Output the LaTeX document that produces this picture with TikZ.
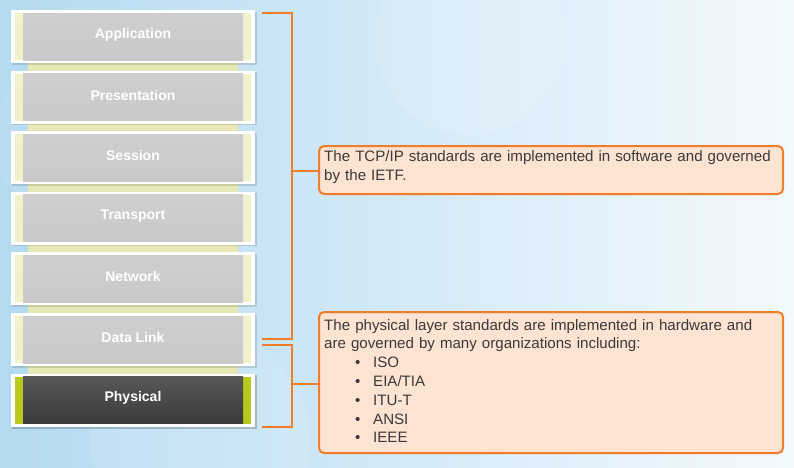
\documentclass[tikz,border=0pt]{standalone}
\usepackage{fontspec}
\setmainfont{Liberation Sans}
\usetikzlibrary{shadows}
\definecolor{bgL}{HTML}{B3DAF1}
\definecolor{bgR}{HTML}{F3F9FD}
\definecolor{orng}{HTML}{F07D2A}
\definecolor{peach}{HTML}{FDE3D1}
\definecolor{txt}{HTML}{3A3A3A}
\definecolor{lgray}{HTML}{C9C9C9}
\definecolor{paley}{HTML}{F1F2CC}
\definecolor{barY}{HTML}{E6E9B6}
\definecolor{physY}{HTML}{B8C81E}
\definecolor{dgray}{HTML}{3B393A}
\tikzset{
  br/.style={draw=orng, line width=2pt},
  tbox/.style={draw=orng, line width=2pt, fill=peach, rounded corners=5pt},
  lbl/.style={text=white, font=\bfseries\fontsize{14}{16}\selectfont},
  btxt/.style={text=txt, font=\fontsize{15.1}{18.8}\selectfont, align=left, text width=455pt, inner sep=0pt, anchor=north west},
}
\begin{document}
\begin{tikzpicture}[x=1pt,y=-1pt]
\useasboundingbox (0,0) rectangle (794,467);
\shade[left color=bgL, right color=bgR] (0,0) rectangle (794,467);
\fill[white, opacity=0.12] (470,40) circle (95);
\fill[white, opacity=0.10] (200,440) circle (110);
\fill[white, opacity=0.08] (60,140) circle (70);
% connector bars between layers
\fill[barY] (28,60) rectangle (238,376);
\foreach \n/\t [count=\i from 0] in {app/Application,pre/Presentation,ses/Session,tra/Transport,net/Network,dl/Data Link} {
  \pgfmathsetmacro\yy{10+\i*60.6}
  \fill[black, opacity=0.12] (12,\yy+1.5) rectangle (256.5,\yy+54.5);
  \fill[white] (11,\yy) rectangle (255,\yy+53);
  \fill[paley] (15,\yy+3) rectangle (251,\yy+50);
  \shade[top color=lgray!90, bottom color=lgray] (23,\yy+3) rectangle (243,\yy+50);
  \node[lbl] (\n) at (133,\yy+24.5) {\t};
}
\pgfmathsetmacro\yy{10+6*60.6}
\fill[black, opacity=0.2] (12,\yy+1.5) rectangle (257,\yy+55.5);
\fill[white] (11,\yy) rectangle (255,\yy+53);
\fill[physY] (15,\yy+3) rectangle (251,\yy+50);
\shade[top color=dgray!85!white, bottom color=dgray] (23,\yy+3) rectangle (243,\yy+50);
\node[lbl] (phy) at (133,\yy+24.5) {Physical};
% text boxes
\node[tbox, anchor=north west, minimum width=464pt, minimum height=48pt, inner sep=0pt] (tcpbox) at (318,145) {};
\node[tbox, anchor=north west, minimum width=464pt, minimum height=141pt, inner sep=0pt] (phybox) at (318,311) {};
\node[btxt] (tcptxt) at (324,150.6) {The TCP/IP standards are implemented in software and governed\\by the IETF.};
\node[btxt] (phytxt) at (324,319.0) {The physical layer standards are implemented in hardware and\\are governed by many organizations including:\\
\hspace*{31pt}\makebox[18pt][l]{•}ISO\\
\hspace*{31pt}\makebox[18pt][l]{•}EIA/TIA\\
\hspace*{31pt}\makebox[18pt][l]{•}ITU-T\\
\hspace*{31pt}\makebox[18pt][l]{•}ANSI\\
\hspace*{31pt}\makebox[18pt][l]{•}IEEE};
% brackets
\coordinate (t1) at (262,13);
\coordinate (t2) at (262,339);
\coordinate (b1) at (262,345);
\coordinate (b2) at (262,427);
\draw[br] (t1) -- (292,13) -- (292,339) -- (t2);
\draw[br] (292,171) -- (tcpbox.west |- 0,171);
\draw[br] (b1) -- (292,345) -- (292,427) -- (b2);
\draw[br] (292,384) -- (phybox.west |- 0,384);
\end{tikzpicture}
\end{document}
